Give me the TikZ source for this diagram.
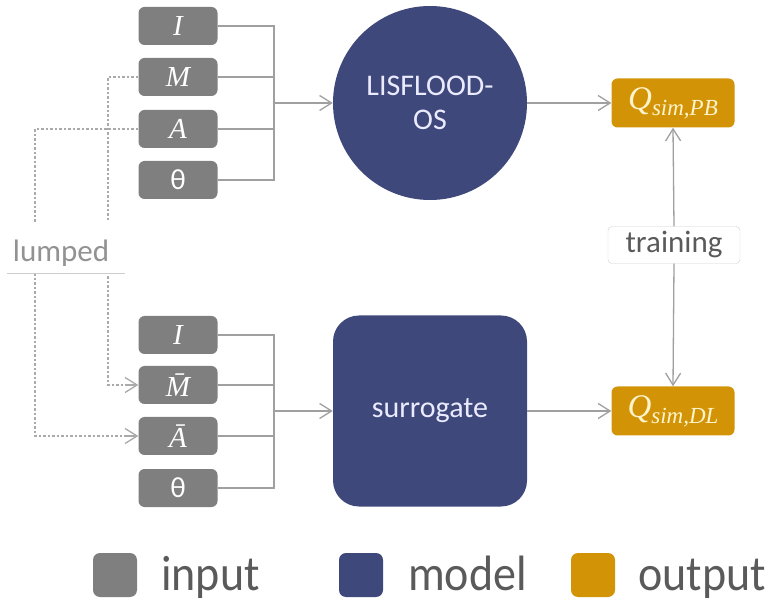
\documentclass[tikz,border=0pt]{standalone}
\usepackage{fontspec}
\setmainfont{Carlito}
\newfontfamily\mser{Liberation Serif}
\usetikzlibrary{arrows.meta}
\definecolor{inpc}{RGB}{127,127,127}
\definecolor{modc}{RGB}{62,72,123}
\definecolor{outc}{RGB}{210,148,6}
\definecolor{linec}{RGB}{160,160,160}
\definecolor{dotc}{RGB}{170,170,170}
\definecolor{txtc}{RGB}{90,90,90}
\definecolor{qtxt}{RGB}{255,244,204}
\newcommand{\mv}[1]{{\mser\itshape #1}}
\newcommand{\qsub}[2]{{\mser\itshape #1}\raisebox{-6pt}{\fontsize{23}{23}\selectfont\mser\itshape #2}}
\tikzset{
  inbox/.style={rectangle, rounded corners=6pt, fill=inpc, minimum width=79pt, minimum height=38pt, inner sep=0pt, text=white, font=\fontsize{29}{29}\selectfont},
  outbox/.style={rectangle, rounded corners=6pt, fill=outc, minimum width=123pt, minimum height=49pt, inner sep=0pt, text=qtxt, font=\fontsize{33}{33}\selectfont},
  modbox/.style={fill=modc, text=white!92!blue, inner sep=0pt, font=\fontsize{30}{34}\selectfont, align=center},
  conn/.style={draw=linec, line width=1.3pt},
  arr/.style={conn, -{Straight Barb[length=12pt,width=15pt,line width=1.3pt]}},
  darr/.style={draw=dotc, line width=1.3pt, -{Straight Barb[length=12pt,width=15pt,line width=1.3pt]}},
  dotline/.style={draw=dotc, line width=1.6pt, dash pattern=on 2.5pt off 2pt},
  legsq/.style={rectangle, rounded corners=7pt, minimum width=44pt, minimum height=44pt, inner sep=0pt},
  legtxt/.style={anchor=base west, inner sep=0pt, text=txtc, font=\fontsize{46}{46}\selectfont}
}
\begin{document}
\begin{tikzpicture}[x=1pt,y=-1pt]
\useasboundingbox (0,0) rectangle (774,601);
% upper inputs
\node[inbox] (I1) at (178,26) {\mv{I}};
\node[inbox] (M1) at (178,77) {\mv{M}};
\node[inbox] (A1) at (178,129) {\mv{A}};
\node[inbox] (T1) at (178,180) {θ};
% lower inputs
\node[inbox] (I2) at (178,335) {\mv{I}};
\node[inbox] (M2) at (178,385) {\mv{\={M}}};
\node[inbox] (A2) at (178,436) {\mv{\={A}}};
\node[inbox] (T2) at (178,488) {θ};
% models
\node[modbox, circle, minimum size=194pt] (lis) at (430,103) {LISFLOOD-\\OS};
\node[modbox, rectangle, rounded corners=26pt, minimum width=194pt, minimum height=191pt] (sur) at (430,411) {surrogate};
% outputs
\node[outbox] (qpb) at (673,103) {\qsub{Q}{sim,PB}};
\node[outbox] (qdl) at (673,411) {\qsub{Q}{sim,DL}};
% bus coordinates
\coordinate (bu) at (274,103);
\coordinate (bl) at (274,411);
\coordinate (dm) at (108,0);
\coordinate (da) at (35,0);
% upper bus
\draw[conn] (I1.east) -| (bu);
\draw[conn] (T1.east) -| (bu);
\draw[conn] (M1.east) -- (M1.east -| bu);
\draw[conn] (A1.east) -- (A1.east -| bu);
\draw[arr] (bu) -- (lis.west);
% lower bus
\draw[conn] (I2.east) -| (bl);
\draw[conn] (T2.east) -| (bl);
\draw[conn] (M2.east) -- (M2.east -| bl);
\draw[conn] (A2.east) -- (A2.east -| bl);
\draw[arr] (bl) -- (sur.west);
% outputs
\draw[arr] (lis.east) -- (qpb.west);
\draw[arr] (sur.east) -- (qdl.west);
% dotted lumped connections
\draw[dotline] (M1.west) -- (M1.west -| dm) -- (M2.west -| dm) -- ([xshift=-2pt]M2.west);
\draw[dotline] (A1.west) -- (A1.west -| da) -- (A2.west -| da) -- ([xshift=-2pt]A2.west);
\draw[darr] ([xshift=-12pt]M2.west) -- (M2.west);
\draw[darr] ([xshift=-12pt]A2.west) -- (A2.west);
% lumped label
\node[fill=white, minimum width=117pt, minimum height=51pt, inner sep=0pt] (lumpbg) at (66,247.5) {};
\draw[draw=black!20, line width=1pt] (lumpbg.south west) -- (lumpbg.south east);
\node[anchor=base, inner sep=0pt, text=inpc!85!white, font=\fontsize{31}{31}\selectfont] (lump) at (61,262) {lumped};
% training
\node[rectangle, rounded corners=4pt, draw=black!18, fill=white, minimum width=132pt, minimum height=37pt, inner sep=0pt, text=txtc, font=\fontsize{31}{31}\selectfont] (train) at (674,245) {training};
\draw[arr] (train.north) -- (qpb.south);
\draw[arr] (train.south) -- (qdl.north);
% legend
\node[legsq, fill=inpc] (lg1) at (115,575) {};
\node[legsq, fill=modc] (lg2) at (361,575) {};
\node[legsq, fill=outc] (lg3) at (593,575) {};
\node[legtxt] (lt1) at (161,590) {\scalebox{1}[1.08]{input}};
\node[legtxt] (lt2) at (408,590) {\scalebox{1}[1.08]{model}};
\node[legtxt] (lt3) at (638,590) {\scalebox{1}[1.08]{output}};
\end{tikzpicture}
\end{document}
